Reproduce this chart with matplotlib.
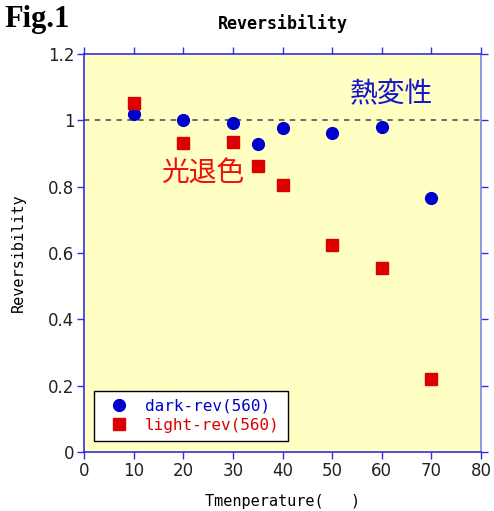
import matplotlib
matplotlib.use("Agg")
import matplotlib.pyplot as plt

plt.rcParams['font.family'] = ['DejaVu Sans', 'Noto Sans CJK JP']

temps_dark = [10, 20, 30, 35, 40, 50, 60, 70]
dark_rev = [1.02, 1.00, 0.992, 0.929, 0.977, 0.962, 0.980, 0.766]
temps_light = [10, 20, 30, 35, 40, 50, 60, 70]
light_rev = [1.052, 0.932, 0.935, 0.862, 0.805, 0.624, 0.555, 0.220]
xticks = [0, 10, 20, 30, 40, 50, 60, 70, 80]
yticks = [0, 0.2, 0.4, 0.6, 0.8, 1.0, 1.2]
ytick_labels = ['0', '0.2', '0.4', '0.6', '0.8', '1', '1.2']

fig = plt.figure(figsize=(4.94, 5.11), dpi=100)
ax = fig.add_axes([84/494, 59/511, 397/494, 398/511])
ax.set_facecolor('#FFFFC4')

ax.axhline(1.0, color='#606060', linestyle=(0, (3, 3)), linewidth=1.3, zorder=1)
ax.plot(temps_dark, dark_rev, 'o', color='#0000CC', markersize=8.5, linestyle='none',
        label='dark-rev(560)', zorder=3)
ax.plot(temps_light, light_rev, 's', color='#DD0000', markersize=8, linestyle='none',
        label='light-rev(560)', zorder=3)

ax.set_xlim(0, 80)
ax.set_ylim(0, 1.2)
ax.set_xticks(xticks)
ax.set_yticks(yticks)
ax.set_yticklabels(ytick_labels)
ax.tick_params(direction='out', length=5, width=1, color='#3030E0', labelsize=12,
               top=True, right=True, labelcolor='#222222', pad=2)

for s in ax.spines.values():
    s.set_color('#3030E0')
    s.set_linewidth(1.2)
ax.spines['right'].set_color('#8080E8')

ax.set_xlabel('Tmenperature(   )', family='DejaVu Sans Mono', fontsize=11, labelpad=10)
ax.set_ylabel('Reversibility', family='DejaVu Sans Mono', fontsize=11, labelpad=16)
ax.set_title('Reversibility', family='DejaVu Sans Mono', fontsize=12, fontweight='bold', pad=18)

ax.text(53.5, 1.055, '熱変性', color='#1515D0', fontsize=20, family='Noto Sans CJK JP')
ax.text(15.5, 0.815, '光退色', color='#EE1010', fontsize=20, family='Noto Sans CJK JP')

fig.text(0.008, 0.948, 'Fig.1', family='Liberation Serif', fontweight='bold', fontsize=22)

leg = ax.legend(loc='lower left', bbox_to_anchor=(0.025, 0.028), frameon=True, fancybox=False,
                edgecolor='black', facecolor='white', framealpha=1,
                prop={'family': 'DejaVu Sans Mono', 'size': 11.5},
                handlelength=2.2, handletextpad=0.5, borderpad=0.5, labelspacing=0.25,
                borderaxespad=0)
leg.get_frame().set_linewidth(1)
for t, c in zip(leg.get_texts(), ['#0000CC', '#DD0000']):
    t.set_color(c)

fig.savefig('out.png', dpi=100)
